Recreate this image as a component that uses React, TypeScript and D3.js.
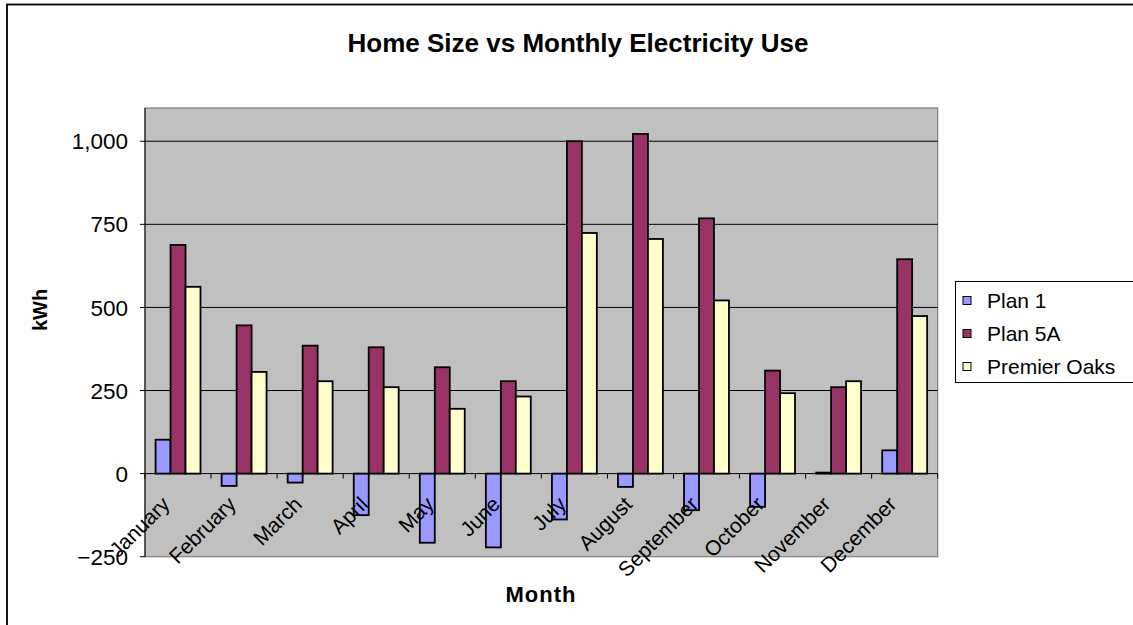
import React from "react";
import * as d3 from "d3";

const months = ["January","February","March","April","May","June","July","August","September","October","November","December"];
const seriesNames = ["Plan 1", "Plan 5A", "Premier Oaks"];
const plan1 = [102, -37, -27, -125, -208, -222, -138, -40, -110, -100, 3, 70];
const plan5A = [688, 446, 385, 380, 320, 278, 1000, 1022, 768, 310, 260, 645];
const premierOaks = [562, 306, 278, 260, 195, 232, 724, 706, 521, 242, 278, 474];
const seriesColors = ["#9999FF", "#993366", "#FFFFCC"];
const yTicks = [-250, 0, 250, 500, 750, 1000];

const W = 1133, H = 625;
const plot = { left: 145, right: 937.7, top: 108, bottom: 556.7 };
const FONT = "Liberation Sans, Arial, sans-serif";

export default function App() {
  const seriesValues = [plan1, plan5A, premierOaks];
  const y = d3.scaleLinear().domain([-250, 1100]).range([plot.bottom, plot.top]);
  const x0 = d3.scaleBand<string>().domain(months).range([plot.left, plot.right]).paddingInner(0.32).paddingOuter(0.16);
  const x1 = d3.scaleBand<string>().domain(seriesNames).range([0, x0.bandwidth()]);
  const step = (plot.right - plot.left) / months.length;
  const fmt = d3.format(",");
  const y0 = y(0);

  return (
    <svg width={W} height={H} style={{ position: "absolute", left: 0, top: 0, background: "#fff" }} fontFamily={FONT}>
      <rect x={7} y={4.5} width={1140} height={640} fill="#fff" stroke="#000" strokeWidth={1.8} />
      <text x={578} y={52} textAnchor="middle" fontSize={26} fontWeight="bold">Home Size vs Monthly Electricity Use</text>
      <rect x={plot.left} y={plot.top} width={plot.right - plot.left} height={plot.bottom - plot.top} fill="#C0C0C0" stroke="#808080" strokeWidth={1.2} />
      {yTicks.filter(t => t > 0).map(t => (
        <line key={"g" + t} x1={plot.left} x2={plot.right} y1={y(t)} y2={y(t)} stroke="#000" strokeWidth={1} />
      ))}
      {months.map((m, i) => (
        <g key={m}>
          {seriesNames.map((s, j) => {
            const v = seriesValues[j][i];
            const top = Math.min(y(v), y0);
            const h = Math.abs(y(v) - y0);
            return <rect key={s} x={(x0(m) as number) + (x1(s) as number)} y={top} width={x1.bandwidth()} height={h} fill={seriesColors[j]} stroke="#000" strokeWidth={1.8} />;
          })}
        </g>
      ))}
      <line x1={plot.left} x2={plot.right} y1={y0} y2={y0} stroke="#000" strokeWidth={1} />
      {d3.range(months.length + 1).map(i => (
        <line key={"ct" + i} x1={plot.left + i * step} x2={plot.left + i * step} y1={y0} y2={y0 + 5} stroke="#000" strokeWidth={1} />
      ))}
      <line x1={plot.left} x2={plot.left} y1={plot.top} y2={plot.bottom} stroke="#000" strokeWidth={1} />
      {yTicks.map(t => (
        <g key={"t" + t}>
          <line x1={plot.left - 5} x2={plot.left} y1={y(t)} y2={y(t)} stroke="#000" strokeWidth={1} />
          <text x={128} y={y(t)} dy="0.36em" textAnchor="end" fontSize={22.5}>{fmt(t)}</text>
        </g>
      ))}
      {months.map(m => {
        const cx = (x0(m) as number) + x0.bandwidth() / 2;
        return <text key={"l" + m} transform={`translate(${cx - 7},${y0 + 32}) rotate(-45)`} textAnchor="end" fontSize={21}>{m}</text>;
      })}
      <text transform={`translate(47,310) rotate(-90)`} textAnchor="middle" fontSize={20} fontWeight="bold">kWh</text>
      <text x={541} y={602} textAnchor="middle" fontSize={22} fontWeight="bold" letterSpacing={1}>Month</text>
      <rect x={955.5} y={281.5} width={180} height={101} fill="#fff" stroke="#000" strokeWidth={1} />
      {seriesNames.map((s, j) => {
        const cy = 300.5 + j * 33;
        return (
          <g key={"lg" + s}>
            <rect x={963} y={cy - 4} width={8} height={8} fill={seriesColors[j]} stroke="#000" strokeWidth={1} />
            <text x={987} y={cy} dy="0.36em" fontSize={21}>{s}</text>
          </g>
        );
      })}
    </svg>
  );
}
